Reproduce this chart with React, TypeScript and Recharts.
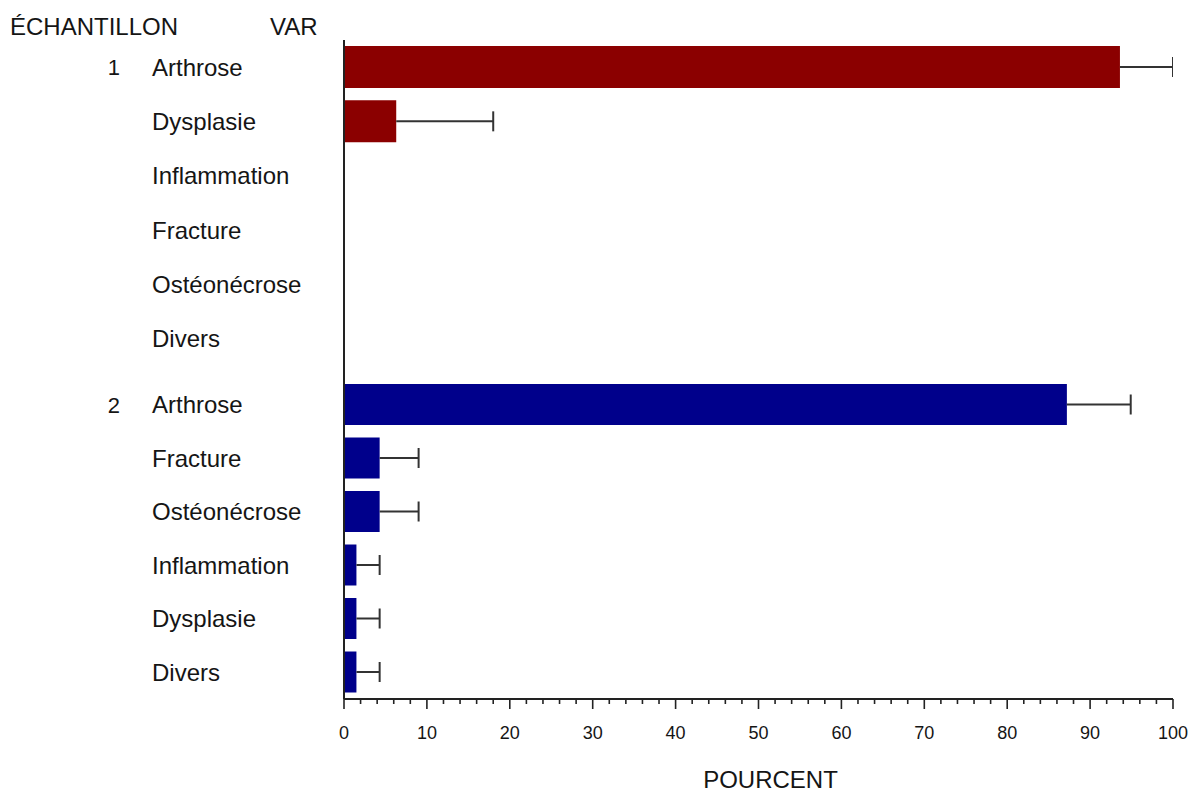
import { Bar, BarChart, XAxis, YAxis } from "recharts";

// Échantillon 1
const sample1Labels = ["Arthrose", "Dysplasie", "Inflammation", "Fracture", "Ostéonécrose", "Divers"];
const sample1Values = [93.6, 6.3, 0, 0, 0, 0];
const sample1Errors = [6.4, 11.7, 0, 0, 0, 0];

// Échantillon 2
const sample2Labels = ["Arthrose", "Fracture", "Ostéonécrose", "Inflammation", "Dysplasie", "Divers"];
const sample2Values = [87.2, 4.3, 4.3, 1.5, 1.5, 1.5];
const sample2Errors = [7.7, 4.7, 4.7, 2.8, 2.8, 2.8];

const majorTicks = [0, 10, 20, 30, 40, 50, 60, 70, 80, 90, 100];
const allTicks = [
  0, 2, 4, 6, 8, 10, 12, 14, 16, 18, 20, 22, 24, 26, 28, 30, 32, 34, 36, 38, 40, 42, 44, 46, 48, 50,
  52, 54, 56, 58, 60, 62, 64, 66, 68, 70, 72, 74, 76, 78, 80, 82, 84, 86, 88, 90, 92, 94, 96, 98, 100,
];

const toRows = (labels: string[], values: number[], errors: number[]) =>
  labels.map((label, i) => ({ label, value: values[i], err: errors[i] }));

const rows1 = toRows(sample1Labels, sample1Values, sample1Errors);
const rows2 = toRows(sample2Labels, sample2Values, sample2Errors);

const INK = "#151515";
const AXIS = "#222";
const FONT = "'Liberation Sans', Arial, sans-serif";

function makeVarTick(sample: string) {
  return function VarTick(props: any) {
    const { y, payload, index } = props;
    return (
      <g>
        {index === 0 && (
          <text x={120} y={y} dy="0.36em" textAnchor="end" fontSize={22} fill={INK}>
            {sample}
          </text>
        )}
        <text x={152} y={y} dy="0.36em" textAnchor="start" fontSize={24} fill={INK}>
          {payload.value}
        </text>
      </g>
    );
  };
}

// upper whisker drawn as the stacked segment sitting on top of the bar
function Whisker(props: any) {
  const { x, y, width, height } = props;
  if (!width || width <= 0) return <g />;
  const cy = y + height / 2;
  const end = x + width;
  return (
    <g stroke="#333" strokeWidth={2}>
      <line x1={x} y1={cy} x2={end} y2={cy} />
      <line x1={end} y1={cy - 10} x2={end} y2={cy + 10} />
    </g>
  );
}

function PercentTick(props: any) {
  const { x, y, payload } = props;
  const major = majorTicks.includes(payload.value);
  return (
    <g>
      <line x1={x} y1={y} x2={x} y2={y + (major ? 10 : 5)} stroke={AXIS} strokeWidth={1.6} />
      {major && (
        <text x={x} y={y + 34} dy="0.36em" textAnchor="middle" fontSize={18} fill={INK}>
          {payload.value}
        </text>
      )}
    </g>
  );
}

export default function App() {
  return (
    <div
      style={{
        position: "absolute",
        left: 0,
        top: 0,
        width: 1190,
        height: 793,
        background: "#fff",
        fontFamily: FONT,
        color: INK,
      }}
    >
      <div style={{ position: "absolute", left: 10, top: 15, fontSize: 24, lineHeight: "24px" }}>ÉCHANTILLON</div>
      <div style={{ position: "absolute", left: 270, top: 15, fontSize: 24, lineHeight: "24px" }}>VAR</div>

      <div style={{ position: "absolute", left: 0, top: 0 }}>
        <BarChart
          layout="vertical"
          width={1190}
          height={372}
          data={rows1}
          margin={{ top: 40, right: 17, bottom: 0, left: 0 }}
          barSize={42}
        >
          <XAxis type="number" domain={[0, 100]} allowDataOverflow hide />
          <YAxis
            type="category"
            dataKey="label"
            width={344}
            interval={0}
            padding={{ top: 0, bottom: 6 }}
            axisLine={{ stroke: AXIS, strokeWidth: 2 }}
            tickLine={false}
            tick={makeVarTick("1")}
          />
          <Bar dataKey="value" stackId="s" fill="#8b0000" isAnimationActive={false} />
          <Bar dataKey="err" stackId="s" shape={<Whisker />} isAnimationActive={false} />
        </BarChart>
      </div>

      <div style={{ position: "absolute", left: 0, top: 372 }}>
        <BarChart
          layout="vertical"
          width={1190}
          height={421}
          data={rows2}
          margin={{ top: 0, right: 17, bottom: 0, left: 0 }}
          barSize={41}
        >
          <XAxis
            type="number"
            domain={[0, 100]}
            allowDataOverflow
            ticks={allTicks}
            interval={0}
            height={94}
            tickSize={0}
            tickMargin={0}
            tickLine={false}
            axisLine={{ stroke: AXIS, strokeWidth: 2 }}
            tick={<PercentTick />}
            label={{ value: "POURCENT", position: "insideBottom", offset: 5, dx: 12, fontSize: 24, fill: INK }}
          />
          <YAxis
            type="category"
            dataKey="label"
            width={344}
            interval={0}
            padding={{ top: 6, bottom: 0 }}
            axisLine={{ stroke: AXIS, strokeWidth: 2 }}
            tickLine={false}
            tick={makeVarTick("2")}
          />
          <Bar dataKey="value" stackId="s" fill="#00008b" isAnimationActive={false} />
          <Bar dataKey="err" stackId="s" shape={<Whisker />} isAnimationActive={false} />
        </BarChart>
      </div>
    </div>
  );
}
